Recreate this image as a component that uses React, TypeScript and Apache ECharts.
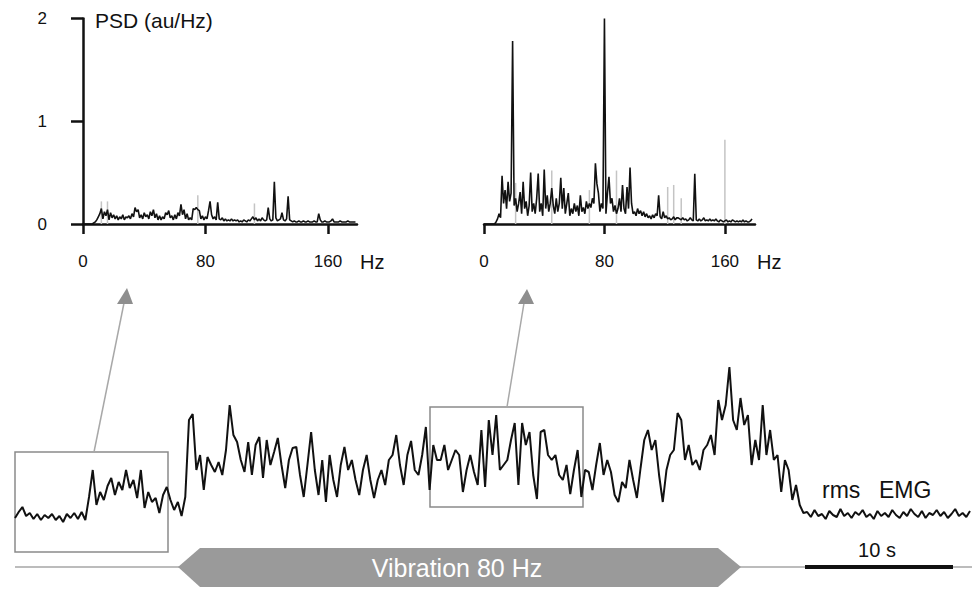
import React, { useEffect, useRef } from "react";
import * as echarts from "echarts";

// ---- Data ----
const FREQ_STEP_HZ = 1;
const FREQ_TICKS = [0, 80, 160];
const PSD_Y_TICKS = [0, 1, 2];

// PSD before vibration (au/Hz), 0..178 Hz
const psdBefore = [
  0, 0, 0, 0, 0, 0, 0, 0.01, 0.02, 0.04,
  0.07, 0.1, 0.15, 0.05, 0.12, 0.08, 0.14, 0.04, 0.11, 0.06,
  0.09, 0.05, 0.08, 0.04, 0.07, 0.05, 0.09, 0.04, 0.07, 0.06,
  0.08, 0.05, 0.1, 0.07, 0.16, 0.12, 0.14, 0.06, 0.09, 0.05,
  0.11, 0.07, 0.09, 0.05, 0.12, 0.08, 0.14, 0.06, 0.1, 0.04,
  0.08, 0.04, 0.07, 0.05, 0.11, 0.09, 0.13, 0.06, 0.08, 0.04,
  0.09, 0.05, 0.11, 0.08, 0.19, 0.09, 0.14, 0.05, 0.1, 0.04,
  0.06, 0.04, 0.15, 0.14, 0.16, 0.14, 0.13, 0.05, 0.08, 0.04,
  0.07, 0.05, 0.13, 0.22, 0.09, 0.05, 0.07, 0.04, 0.21, 0.05,
  0.04, 0.06, 0.03, 0.05, 0.03, 0.04, 0.03, 0.05, 0.03, 0.04,
  0.03, 0.04, 0.02, 0.03, 0.02, 0.04, 0.03, 0.02, 0.04, 0.03,
  0.05, 0.07, 0.04, 0.06, 0.03, 0.05, 0.03, 0.06, 0.04, 0.03,
  0.04, 0.16, 0.05, 0.03, 0.04, 0.41, 0.06, 0.03, 0.04, 0.05,
  0.11, 0.04, 0.03, 0.05, 0.27, 0.04, 0.03, 0.02, 0.03, 0.02,
  0.02, 0.03, 0.02, 0.02, 0.03, 0.02, 0.02, 0.03, 0.02, 0.02,
  0.02, 0.03, 0.02, 0.02, 0.1, 0.04, 0.02, 0.02, 0.03, 0.02,
  0.02, 0.02, 0.03, 0.05, 0.02, 0.02, 0.02, 0.02, 0.03, 0.02,
  0.02, 0.02, 0.02, 0.03, 0.02, 0.02, 0.02, 0.02, 0.02,
];
// faint (light grey) spectral lines, [Hz, au/Hz]
const psdBeforeFaint = [
  [12, 0.22], [16, 0.22], [75, 0.28], [112, 0.2],
];

// PSD during 80 Hz vibration (au/Hz), 0..178 Hz
const psdDuring = [
  0, 0, 0, 0, 0, 0, 0, 0, 0.02, 0.05,
  0.1, 0.06, 0.47, 0.2, 0.33, 0.15, 0.41, 0.22, 0.3, 1.78,
  0.18, 0.25, 0.12, 0.2, 0.31, 0.1, 0.41, 0.15, 0.22, 0.08,
  0.18, 0.5, 0.12, 0.2, 0.1, 0.25, 0.49, 0.12, 0.2, 0.08,
  0.53, 0.15, 0.28, 0.12, 0.2, 0.35, 0.18, 0.1, 0.25, 0.12,
  0.2, 0.45, 0.15, 0.35, 0.1, 0.2, 0.3, 0.08, 0.15, 0.1,
  0.2, 0.12, 0.18, 0.08, 0.28, 0.12, 0.16, 0.1, 0.22, 0.15,
  0.2, 0.16, 0.25, 0.2, 0.59, 0.39, 0.3, 0.12, 0.2, 0.15,
  2.0, 0.1, 0.3, 0.46, 0.2, 0.25, 0.12, 0.18, 0.1, 0.15,
  0.25, 0.12, 0.38, 0.15, 0.1, 0.36, 0.15, 0.55, 0.2, 0.1,
  0.12, 0.08, 0.15, 0.1, 0.13, 0.08, 0.12, 0.07, 0.1, 0.06,
  0.08, 0.05, 0.09, 0.06, 0.1, 0.08, 0.28, 0.07, 0.05, 0.12,
  0.06, 0.08, 0.05, 0.06, 0.04, 0.05, 0.07, 0.04, 0.06, 0.06,
  0.05, 0.04, 0.06, 0.04, 0.05, 0.03, 0.04, 0.06, 0.04, 0.03,
  0.49, 0.04, 0.03, 0.05, 0.03, 0.04, 0.06, 0.03, 0.04, 0.03,
  0.05, 0.03, 0.04, 0.03, 0.05, 0.03, 0.02, 0.04, 0.03, 0.02,
  0.03, 0.04, 0.02, 0.03, 0.02, 0.04, 0.03, 0.02, 0.03, 0.02,
  0.03, 0.02, 0.04, 0.02, 0.03, 0.02, 0.02, 0.03, 0.05,
];
const psdDuringFaint = [
  [21, 0.4], [45, 0.52], [70, 0.33], [88, 0.52],
  [122, 0.36], [126, 0.38], [131, 0.25], [160, 0.82],
];

// rms EMG (a.u.), one sample every 0.25 s
const EMG_STEP_S = 0.25;
const emgRms = [
  42, 48, 53, 44, 47, 41, 46, 40, 45, 42,
  46, 40, 44, 38, 46, 42, 47, 41, 48, 40,
  63, 90, 55, 68, 60, 74, 82, 65, 78, 70,
  90, 72, 80, 62, 90, 52, 68, 58, 62, 47,
  65, 73, 60, 50, 58, 44, 63, 140, 146, 90,
  105, 70, 103, 95, 88, 98, 85, 110, 155, 125,
  118, 100, 88, 118, 85, 115, 123, 82, 120, 95,
  108, 122, 95, 72, 100, 112, 113, 85, 63, 95,
  128, 90, 65, 100, 58, 105, 80, 63, 95, 113,
  90, 100, 80, 65, 90, 105, 80, 62, 80, 90,
  75, 100, 105, 125, 95, 75, 105, 119, 90, 85,
  105, 133, 70, 115, 100, 100, 115, 90, 100, 110,
  105, 68, 90, 105, 88, 75, 130, 73, 140, 105,
  145, 90, 95, 100, 120, 137, 75, 137, 115, 128,
  85, 61, 128, 130, 105, 100, 105, 85, 80, 95,
  66, 90, 110, 63, 90, 88, 70, 95, 117, 85,
  100, 88, 65, 58, 78, 72, 100, 80, 62, 92,
  120, 130, 110, 120, 85, 58, 90, 105, 110, 147,
  140, 100, 115, 95, 100, 90, 110, 115, 125, 105,
  160, 140, 155, 193, 140, 130, 162, 135, 145, 95,
  120, 100, 155, 105, 130, 100, 105, 68, 100, 90,
  60, 75, 55, 47,
  48, 43, 50, 44, 46, 41, 49, 45, 43, 51,
  44, 47, 42, 48, 45, 50, 43, 46, 41, 49,
  44, 47, 43, 50, 45, 42, 48, 44, 51, 46,
  43, 49, 42, 47, 45, 50, 44, 48, 42, 46,
  51, 44, 47, 43, 49,
];

const FONT = "'Liberation Sans', Arial, Helvetica, sans-serif";
const INK = "#111111";

export default function App() {
  const ref = useRef<HTMLDivElement>(null);

  useEffect(() => {
    document.body.style.margin = "0";
    if (!ref.current) return;
    const chart = echarts.init(ref.current, null, { renderer: "svg" });

    const toPairs = (arr: number[], step: number) => arr.map((v, i) => [i * step, v]);

    const freqAxis = (gridIndex: number, max: number) => ({
      gridIndex,
      type: "value",
      min: 0,
      max,
      offset: 8,
      axisLine: { show: true, lineStyle: { color: INK, width: 2.5 } },
      axisTick: { show: true, length: 10, customValues: FREQ_TICKS, lineStyle: { color: INK, width: 2.5 } },
      axisLabel: { customValues: FREQ_TICKS, margin: 21, fontSize: 17, color: INK, fontFamily: FONT },
      splitLine: { show: false },
    });

    const emgEnd = (emgRms.length - 1) * EMG_STEP_S;

    chart.setOption({
      animation: false,
      backgroundColor: "#ffffff",
      grid: [
        { left: 83, top: 18.5, width: 274, height: 205.5 },
        { left: 484, top: 18.5, width: 271, height: 205.5 },
        { left: 15, top: 360, width: 955, height: 200 },
      ],
      xAxis: [
        freqAxis(0, 179),
        freqAxis(1, 180),
        { gridIndex: 2, type: "value", min: 0, max: emgEnd, show: false },
      ],
      yAxis: [
        {
          gridIndex: 0,
          type: "value",
          min: 0,
          max: 2,
          interval: 1,
          offset: 13,
          axisLine: { show: true, lineStyle: { color: INK, width: 2.5 } },
          axisTick: { show: true, length: 12, customValues: PSD_Y_TICKS, lineStyle: { color: INK, width: 2.5 } },
          axisLabel: { customValues: PSD_Y_TICKS, margin: 23, fontSize: 17, color: INK, fontFamily: FONT },
          splitLine: { show: false },
        },
        { gridIndex: 1, type: "value", min: 0, max: 2, show: false },
        { gridIndex: 2, type: "value", min: 0, max: 200, show: false },
      ],
      series: [
        {
          type: "bar",
          xAxisIndex: 0,
          yAxisIndex: 0,
          data: psdBeforeFaint,
          barWidth: 1.5,
          itemStyle: { color: "#c4c4c4" },
          silent: true,
        },
        {
          type: "line",
          xAxisIndex: 0,
          yAxisIndex: 0,
          data: toPairs(psdBefore, FREQ_STEP_HZ),
          showSymbol: false,
          lineStyle: { color: INK, width: 1.6 },
          silent: true,
        },
        {
          type: "bar",
          xAxisIndex: 1,
          yAxisIndex: 1,
          data: psdDuringFaint,
          barWidth: 1.5,
          itemStyle: { color: "#c4c4c4" },
          silent: true,
        },
        {
          type: "line",
          xAxisIndex: 1,
          yAxisIndex: 1,
          data: toPairs(psdDuring, FREQ_STEP_HZ),
          showSymbol: false,
          lineStyle: { color: INK, width: 1.6 },
          silent: true,
        },
        {
          type: "line",
          xAxisIndex: 2,
          yAxisIndex: 2,
          data: toPairs(emgRms, EMG_STEP_S),
          showSymbol: false,
          lineStyle: { color: INK, width: 2 },
          silent: true,
          z: 5,
        },
      ],
      graphic: [
        // axis captions
        {
          type: "text", left: 95, top: 10, silent: true,
          style: { text: "PSD (au/Hz)", fontSize: 21, fill: INK, fontFamily: FONT },
        },
        {
          type: "text", left: 360, top: 252, silent: true,
          style: { text: "Hz", fontSize: 20, fill: INK, fontFamily: FONT },
        },
        {
          type: "text", left: 757, top: 252, silent: true,
          style: { text: "Hz", fontSize: 20, fill: INK, fontFamily: FONT },
        },
        // baseline through stimulus row
        {
          type: "line", silent: true,
          shape: { x1: 15, y1: 567, x2: 972, y2: 567 },
          style: { stroke: "#a6a6a6", lineWidth: 1.5 },
        },
        // vibration banner
        {
          type: "polygon", silent: true,
          shape: { points: [[178, 567], [200, 548], [718, 548], [741, 567], [718, 587], [200, 587]] },
          style: { fill: "#9a9a9a" },
        },
        {
          type: "text", x: 457, y: 568, silent: true,
          style: {
            text: "Vibration 80 Hz", fontSize: 25, fill: "#ffffff", fontFamily: FONT,
            align: "center", verticalAlign: "middle",
          },
        },
        // 10 s scale bar
        {
          type: "line", silent: true,
          shape: { x1: 805, y1: 567, x2: 953, y2: 567 },
          style: { stroke: INK, lineWidth: 4 },
        },
        {
          type: "text", x: 877, y: 550, silent: true,
          style: { text: "10 s", fontSize: 20, fill: INK, fontFamily: FONT, align: "center", verticalAlign: "middle" },
        },
        // trace label
        {
          type: "text", x: 822, y: 490, silent: true,
          style: { text: "rms", fontSize: 23, fill: INK, fontFamily: FONT, verticalAlign: "middle" },
        },
        {
          type: "text", x: 879, y: 490, silent: true,
          style: { text: "EMG", fontSize: 23, fill: INK, fontFamily: FONT, verticalAlign: "middle" },
        },
        // analysis windows
        {
          type: "rect", silent: true,
          shape: { x: 15, y: 452, width: 153, height: 100 },
          style: { fill: "none", stroke: "#8a8a8a", lineWidth: 1.5 },
        },
        {
          type: "rect", silent: true,
          shape: { x: 430, y: 407, width: 153, height: 100 },
          style: { fill: "none", stroke: "#8a8a8a", lineWidth: 1.5 },
        },
        // arrows
        {
          type: "line", silent: true,
          shape: { x1: 94, y1: 452, x2: 124, y2: 303 },
          style: { stroke: "#a8a8a8", lineWidth: 1.5 },
        },
        {
          type: "polygon", silent: true,
          shape: { points: [[127, 288], [117, 304], [133, 304]] },
          style: { fill: "#8e8e8e" },
        },
        {
          type: "line", silent: true,
          shape: { x1: 507, y1: 407, x2: 524, y2: 303 },
          style: { stroke: "#a8a8a8", lineWidth: 1.5 },
        },
        {
          type: "polygon", silent: true,
          shape: { points: [[527, 289], [518, 304], [534, 304]] },
          style: { fill: "#8e8e8e" },
        },
      ],
    });

    return () => chart.dispose();
  }, []);

  return <div ref={ref} style={{ width: 974, height: 589 }} />;
}
